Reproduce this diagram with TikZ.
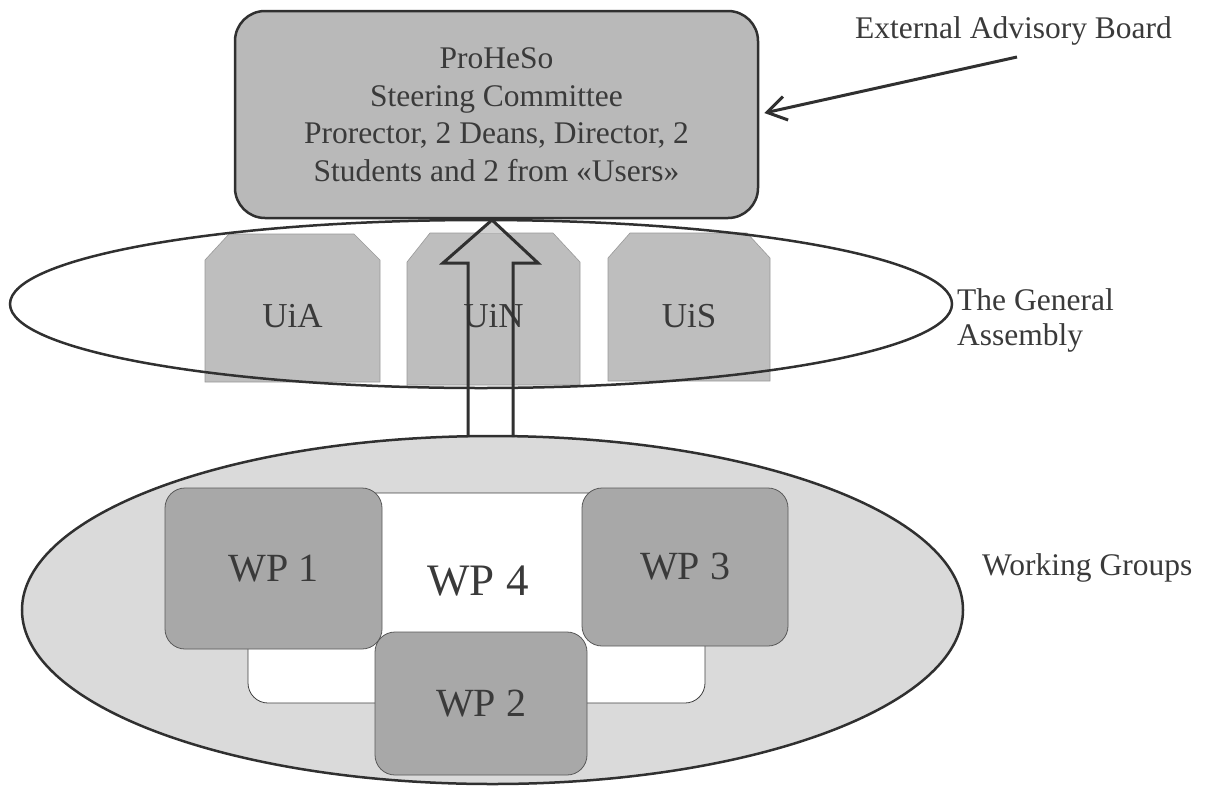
\documentclass[tikz,border=0pt]{standalone}
\usepackage{fontspec}
\setmainfont{Liberation Serif}
\usetikzlibrary{arrows.meta,shapes.geometric}
\definecolor{txt}{HTML}{3A3A3A}
\definecolor{boxgray}{HTML}{B9B9B9}
\definecolor{unigray}{HTML}{BEBEBE}
\definecolor{wpgray}{HTML}{A8A8A8}
\definecolor{wggray}{HTML}{DADADA}
\definecolor{edge}{HTML}{303030}
\begin{document}
\begin{tikzpicture}[x=1pt,y=-1pt,
  topbox/.style={draw=edge, line width=2.5pt, fill=boxgray, rounded corners=30pt,
    minimum width=523pt, minimum height=207pt, inner sep=0pt, align=center,
    text=txt, font=\fontsize{31.5}{37.5}\selectfont},
  unishape/.style={fill=unigray, draw=gray!80, line width=0.6pt},
  unitext/.style={text=txt, font=\fontsize{35}{35}\selectfont, anchor=base, inner sep=0pt},
  ovalline/.style={ellipse, draw=edge, line width=2.5pt, inner sep=0pt},
  wpbox/.style={draw=gray!130, line width=0.8pt, fill=wpgray, rounded corners=20pt,
    inner sep=0pt, text=txt, font=\fontsize{40}{40}\selectfont},
  wpframe/.style={draw=gray!150, line width=0.8pt, fill=white, rounded corners=20pt, inner sep=0pt},
  lbl/.style={text=txt, font=\fontsize{31.5}{35}\selectfont, inner sep=0pt},
  blockarrow/.style={draw=edge, line width=3pt, line join=miter},
  advarrow/.style={draw=edge, line width=3pt, -{Straight Barb[length=19pt,width=24pt,line width=3pt]}}
]
\useasboundingbox (0,0) rectangle (1210,785);

% Steering committee
\node[topbox] (sc) at (496.5,114.5) {ProHeSo\\Steering Committee\\Prorector, 2 Deans, Director, 2\\Students and 2 from «Users»};

% universities
\path[unishape] (205,382) -- (205,260) -- (229,234) -- (354,234) -- (380,260) -- (380,382) -- cycle;
\path[unishape] (407,385) -- (407,262) -- (430,233) -- (553,233) -- (580,262) -- (580,385) -- cycle;
\path[unishape] (608,381) -- (608,258) -- (630,233) -- (747,233) -- (770,258) -- (770,381) -- cycle;
\node[unitext] (uia) at (292.5,327) {UiA};
\node[unitext] (uin) at (493.5,327) {UiN};
\node[unitext] (uis) at (689,327) {UiS};

% general assembly oval
\node[ovalline, minimum width=942pt, minimum height=168pt] (ga) at (481,304) {};

% working groups oval
\node[ovalline, fill=wggray, minimum width=941pt, minimum height=348pt] (wg) at (492.5,610) {};

\node[wpframe, minimum width=457pt, minimum height=210pt] (wp4) at (476.5,598) {};
\node[text=txt, font=\fontsize{45}{45}\selectfont, inner sep=0pt, anchor=base] (wp4t) at (478,595) {WP 4};
\node[wpbox, minimum width=217pt, minimum height=161pt] (wp1) at (273.5,568.5) {WP 1};
\node[wpbox, minimum width=206pt, minimum height=158pt] (wp3) at (685,567) {WP 3};
\node[wpbox, minimum width=212pt, minimum height=143pt] (wp2) at (481,703.5) {WP 2};

% block arrow from working groups to steering committee
\coordinate (tip) at (492,220);
\fill[unigray!70] (tip) -- (478,233) -- (507,233) -- cycle;
\draw[blockarrow] (468,437) -- (468,263) -- (443,263) -- (tip) -- (538,263) -- (513,263) -- (513,437);

% labels
\node[lbl, anchor=base] (eab) at (1013.5,38) {External Advisory Board};
\coordinate (eabs) at (1017,57);
\draw[advarrow] (eabs) -- ([shift={(5,-1.5)}]sc.east);
\node[lbl, anchor=west, align=left] (gal) at (957,320) {The General\\Assembly};
\node[lbl, anchor=base west] (wgl) at (982,575) {Working Groups};
\end{tikzpicture}
\end{document}
